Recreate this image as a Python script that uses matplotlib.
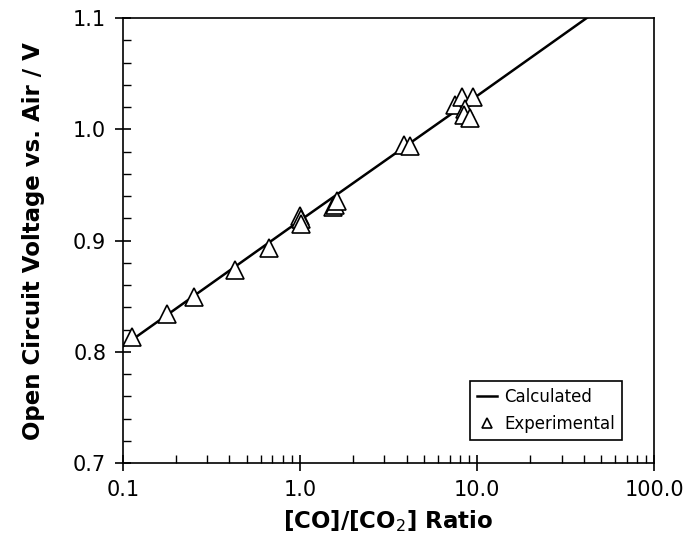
import matplotlib
matplotlib.use("Agg")
import matplotlib.pyplot as plt
from matplotlib.ticker import FixedLocator, FixedFormatter, LogLocator, MultipleLocator

# calculated line (straight in log space)
calc_ratio = [0.1, 1.0, 10.0, 100.0]
calc_voltage = [0.805, 0.918, 1.030, 1.143]

# experimental points
exp_ratio = [0.113, 0.177, 0.252, 0.43, 0.668, 1.0, 1.01, 1.02, 1.53, 1.57, 1.63,
             3.87, 4.21, 7.5, 8.27, 9.53, 8.6, 8.47, 9.1]
exp_voltage = [0.813, 0.834, 0.849, 0.874, 0.893, 0.922, 0.919, 0.915, 0.930, 0.932, 0.936,
               0.986, 0.985, 1.022, 1.029, 1.029, 1.018, 1.013, 1.010]

xticks = [0.1, 1.0, 10.0, 100.0]
xtick_labels = ["0.1", "1.0", "10.0", "100.0"]
yticks = [0.7, 0.8, 0.9, 1.0, 1.1]
ytick_labels = ["0.7", "0.8", "0.9", "1.0", "1.1"]

fig = plt.figure(figsize=(6.9, 5.45), dpi=100)
ax = fig.add_axes([0.178, 0.150, 0.770, 0.817])

ax.plot(calc_ratio, calc_voltage, color="black", lw=1.8, label="Calculated", zorder=2)
ax.plot(exp_ratio, exp_voltage, ls="none", marker="^", ms=13, mfc="white", mec="black",
        mew=1.2, label="Experimental", zorder=3)

ax.set_xscale("log")
ax.set_xlim(0.1, 100)
ax.set_ylim(0.7, 1.1)

ax.xaxis.set_major_locator(FixedLocator(xticks))
ax.xaxis.set_major_formatter(FixedFormatter(xtick_labels))
ax.xaxis.set_minor_locator(LogLocator(base=10, subs=range(2, 10)))
ax.xaxis.set_minor_formatter(FixedFormatter([]))
ax.yaxis.set_major_locator(FixedLocator(yticks))
ax.yaxis.set_major_formatter(FixedFormatter(ytick_labels))
ax.yaxis.set_minor_locator(MultipleLocator(0.02))

ax.tick_params(which="major", direction="inout", length=12, width=1.2, labelsize=15, pad=6)
ax.tick_params(which="minor", direction="in", length=6, width=1.0)
ax.tick_params(top=False, right=False, which="both")
for s in ax.spines.values():
    s.set_linewidth(1.2)

ax.set_xlabel("[CO]/[CO$_2$] Ratio", fontsize=16.5, fontweight="bold", labelpad=6)
ax.set_ylabel("Open Circuit Voltage vs. Air / V", fontsize=16.5, fontweight="bold", labelpad=20)

leg = ax.legend(loc="lower right", bbox_to_anchor=(0.94, 0.052), fontsize=12,
                fancybox=False, edgecolor="black", framealpha=1, markerscale=0.6,
                handlelength=1.2, handletextpad=0.4, borderpad=0.45, borderaxespad=0)
leg.get_frame().set_linewidth(1.2)

fig.savefig("out.png", dpi=100)
